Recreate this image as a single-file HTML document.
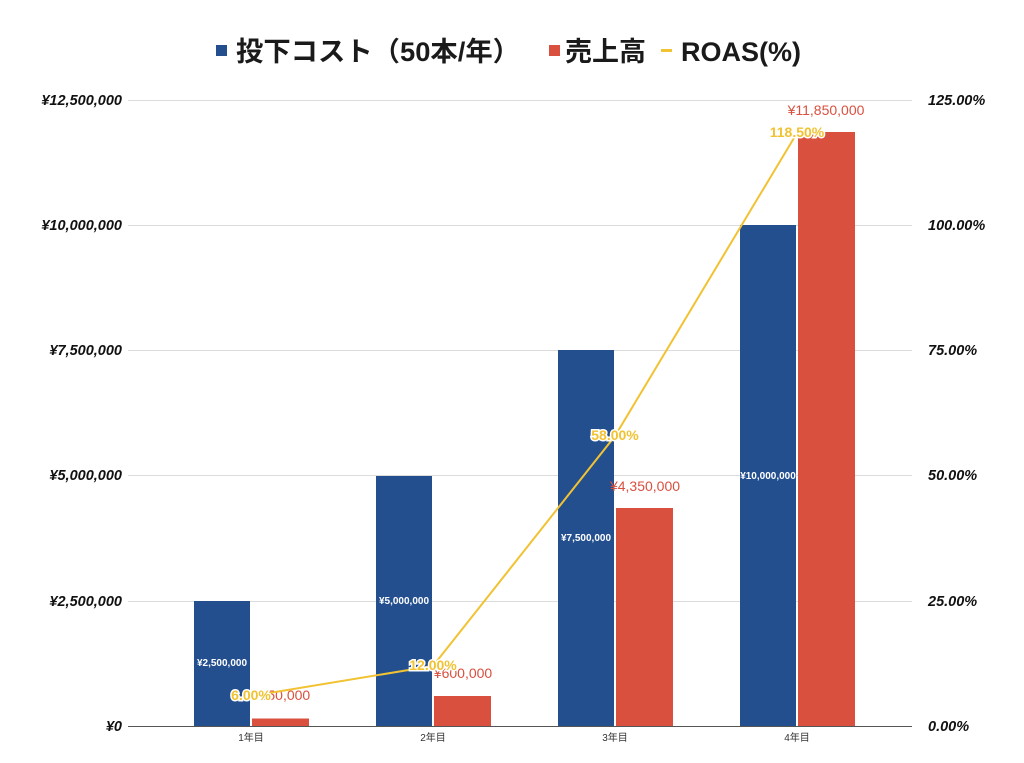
<!DOCTYPE html><html><head><meta charset="utf-8"><style>body{margin:0;background:#fff}svg{display:block}</style></head><body>
<svg width="1024" height="763" xmlns="http://www.w3.org/2000/svg" font-family="Liberation Sans, Noto Sans CJK JP, sans-serif">
<rect width="1024" height="763" fill="#fff"/>
<g font-weight="bold" font-size="27" fill="#1a1a1a">
<rect x="216" y="45" width="11" height="11" fill="#234f8f"/>
<text x="236" y="61" textLength="284" lengthAdjust="spacingAndGlyphs">投下コスト（50本/年）</text>
<rect x="549" y="45" width="11" height="11" fill="#d9503f"/>
<text x="565" y="61">売上高</text>
<rect x="661" y="49" width="11" height="3" fill="#f1c232"/>
<text x="681" y="61">ROAS(%)</text>
</g>
<g stroke="#dcdcdc" stroke-width="1">
<line x1="128" x2="912" y1="100.5" y2="100.5"/><line x1="128" x2="912" y1="225.5" y2="225.5"/><line x1="128" x2="912" y1="350.5" y2="350.5"/><line x1="128" x2="912" y1="475.5" y2="475.5"/><line x1="128" x2="912" y1="601.5" y2="601.5"/>
</g>
<g font-size="14.5" font-weight="bold" font-style="italic" fill="#111" text-anchor="end">
<text x="122" y="105">¥12,500,000</text><text x="122" y="230">¥10,000,000</text><text x="122" y="355">¥7,500,000</text><text x="122" y="480">¥5,000,000</text><text x="122" y="606">¥2,500,000</text><text x="122" y="731">¥0</text>
</g>
<g font-size="14.5" font-weight="bold" font-style="italic" fill="#111">
<text x="928" y="105">125.00%</text><text x="928" y="230">100.00%</text><text x="928" y="355">75.00%</text><text x="928" y="480">50.00%</text><text x="928" y="606">25.00%</text><text x="928" y="731">0.00%</text>
</g>
<g fill="#234f8f">
<rect x="194" y="601" width="56" height="125"/><rect x="376" y="476" width="56" height="250"/><rect x="558" y="350" width="56" height="376"/><rect x="740" y="225" width="56" height="501"/>
</g>
<g fill="#d9503f">
<rect x="252" y="718.5" width="57" height="7.5"/><rect x="434" y="696" width="57" height="30"/><rect x="616" y="508" width="57" height="218"/><rect x="798" y="132" width="57" height="594"/>
</g>
<line x1="128" x2="912" y1="726.5" y2="726.5" stroke="#555"/>
<g font-size="10" fill="#333" text-anchor="middle">
<text x="251" y="741">1年目</text><text x="433" y="741">2年目</text><text x="615" y="741">3年目</text><text x="797" y="741">4年目</text>
</g>
<g font-size="10" font-weight="bold" fill="#fff" text-anchor="middle">
<text x="222" y="666">¥2,500,000</text><text x="404" y="604">¥5,000,000</text><text x="586" y="541">¥7,500,000</text><text x="768" y="479">¥10,000,000</text>
</g>
<g font-size="14" fill="#d9503f" text-anchor="middle">
<text x="281" y="700">¥150,000</text><text x="463" y="678">¥600,000</text><text x="645" y="491">¥4,350,000</text><text x="826" y="115">¥11,850,000</text>
</g>
<polyline points="251,696 433,666 615,436 797,133" fill="none" stroke="#f1c232" stroke-width="2"/>
<g font-size="14" font-weight="bold" fill="#f1c232" stroke="#fff" stroke-width="3" paint-order="stroke" text-anchor="middle">
<text x="251" y="700">6.00%</text><text x="433" y="670">12.00%</text><text x="615" y="440">58.00%</text><text x="797" y="137">118.50%</text>
</g>
</svg>
</body></html>
